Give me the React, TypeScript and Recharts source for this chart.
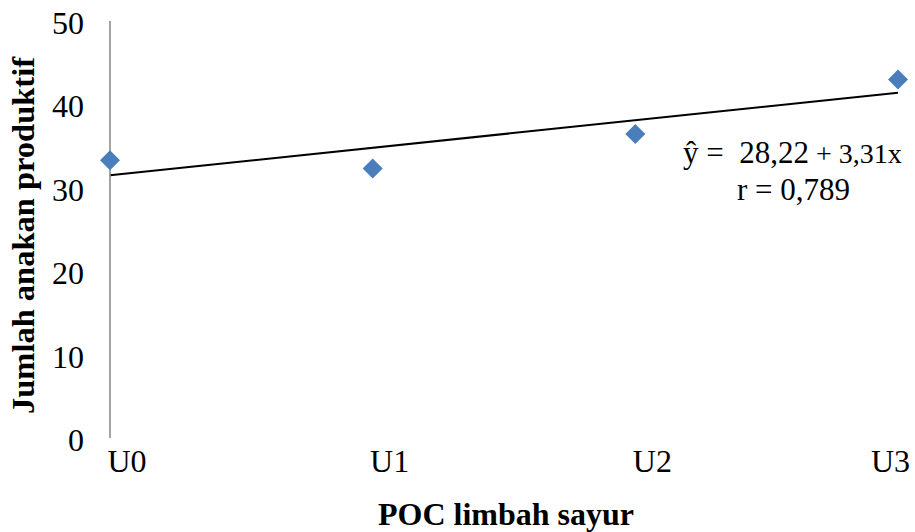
import React from "react";
import { LineChart, Line, XAxis, YAxis, Customized } from "recharts";

const categories = ["U0", "U1", "U2", "U3"];
const observed = [33.3, 32.3, 36.45, 43.0];
const trend: (number | null)[] = [31.5, null, null, 41.4];
const yTicks = [0, 10, 20, 30, 40, 50];
const equationMain = "ŷ =  28,22";
const equationRest = " + 3,31x";
const rText = "r = 0,789";
const xTitle = "POC limbah sayur";
const yTitle = "Jumlah anakan produktif";

const data = categories.map((c, i) => ({ cat: c, obs: observed[i], trend: trend[i] }));

const FONT = '"Liberation Serif", "Times New Roman", serif';
const BLUE = "#4A7EBB";

const Diamond = (props: any) => {
  const { cx, cy } = props;
  if (cx == null || cy == null) return null;
  const r = 10;
  return (
    <path
      d={`M${cx},${cy - r} L${cx + r},${cy} L${cx},${cy + r} L${cx - r},${cy} Z`}
      fill={BLUE}
      stroke="none"
    />
  );
};

const YTick = (props: any) => {
  const { x, y, payload } = props;
  return (
    <text x={x - 18} y={y + 13} textAnchor="end" fontFamily={FONT} fontSize={32} fill="#000">
      {payload.value}
    </text>
  );
};

const XTick = (props: any) => {
  const { x, y, payload, index } = props;
  const last = index === categories.length - 1;
  return (
    <text
      x={last ? x + 12 : x + 17}
      y={y + 26}
      textAnchor={last ? "end" : "middle"}
      fontFamily={FONT}
      fontSize={32}
      fill="#000"
    >
      {payload.value}
    </text>
  );
};

const Annotation = () => (
  <g fontFamily={FONT} fill="#000">
    <text x={683} y={163} fontSize={31} style={{ whiteSpace: "pre" }}>
      <tspan>{equationMain}</tspan>
      <tspan fontSize={28}>{equationRest}</tspan>
    </text>
    <text x={737} y={200} fontSize={31}>
      {rText}
    </text>
  </g>
);

export default function App() {
  return (
    <div style={{ position: "absolute", left: 0, top: 0, background: "#fff" }}>
      <LineChart width={915} height={532} data={data} margin={{ top: 21, right: 17, bottom: 0, left: 30 }}>
        <XAxis
          dataKey="cat"
          axisLine={false}
          tickLine={false}
          height={94}
          tick={<XTick />}
          interval={0}
          label={{
            content: (p: any) => {
              const vb = p.viewBox;
              return (
                <text
                  x={vb.x + vb.width / 2 + 2}
                  y={525}
                  textAnchor="middle"
                  fontFamily={FONT}
                  fontWeight="bold"
                  fontSize={32}
                  fill="#000"
                >
                  {xTitle}
                </text>
              );
            },
          }}
        />
        <YAxis
          domain={[0, 50]}
          ticks={yTicks}
          width={80}
          axisLine={{ stroke: "#868686", strokeWidth: 1.5 }}
          tickLine={false}
          tick={<YTick />}
          interval={0}
          label={{
            content: (p: any) => {
              const vb = p.viewBox;
              const cy = vb.y + vb.height / 2 + 6;
              return (
                <text
                  x={34}
                  y={cy}
                  transform={`rotate(-90, 34, ${cy})`}
                  textAnchor="middle"
                  fontFamily={FONT}
                  fontWeight="bold"
                  fontSize={32.5}
                  fill="#000"
                >
                  {yTitle}
                </text>
              );
            },
          }}
        />
        <Line
          dataKey="trend"
          stroke="#000"
          strokeWidth={2}
          dot={false}
          connectNulls
          isAnimationActive={false}
        />
        <Line
          dataKey="obs"
          stroke="none"
          dot={<Diamond />}
          activeDot={false}
          isAnimationActive={false}
        />
        <Customized component={<Annotation />} />
      </LineChart>
    </div>
  );
}
